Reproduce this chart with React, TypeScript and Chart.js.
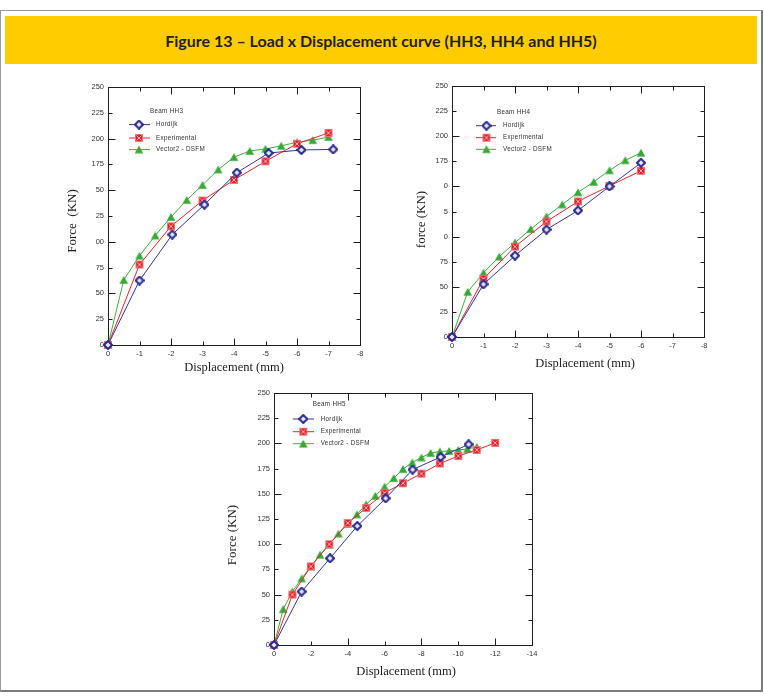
import React, { useEffect, useRef } from "react";
import { Chart, registerables } from "chart.js";

Chart.register(...registerables);

// ---- Beam HH3 ----
const HH3_HORDIJK_X = [0, 1.0, 2.04, 3.06, 4.09, 5.1, 6.14, 7.15];
const HH3_HORDIJK_Y = [0, 62.5, 107, 136, 167, 186, 189, 189.5];
const HH3_EXP_X = [0, 1, 2, 3, 4, 5, 6, 7];
const HH3_EXP_Y = [0, 78, 115, 140, 160, 178, 195, 205.5];
const HH3_VEC_X = [0, 0.5, 1, 1.5, 2, 2.5, 3, 3.5, 4, 4.5, 5, 5.5, 6, 6.5, 7];
const HH3_VEC_Y = [0, 63, 86.5, 106, 124, 140.5, 155, 170, 182, 188, 190, 193, 196.5, 198.5, 201.5];

// ---- Beam HH4 ----
const HH4_HORDIJK_X = [0, 1, 2, 3, 4, 5, 6];
const HH4_HORDIJK_Y = [0, 52.5, 81, 107, 126, 150, 173.5];
const HH4_EXP_X = [0, 1, 2, 3, 4, 5, 6];
const HH4_EXP_Y = [0, 58, 90, 115, 135, 150.5, 165.5];
const HH4_VEC_X = [0, 0.5, 1, 1.5, 2, 2.5, 3, 3.5, 4, 4.5, 5, 5.5, 6];
const HH4_VEC_Y = [0, 45, 64, 80, 94, 107.5, 120, 132, 144, 154.5, 166, 176, 183.5];

// ---- Beam HH5 ----
const HH5_HORDIJK_X = [0, 1.5, 3.04, 4.52, 6.06, 7.52, 9.04, 10.56];
const HH5_HORDIJK_Y = [0, 53, 86, 118, 145.5, 174, 186.5, 199];
const HH5_EXP_X = [0, 1, 2, 3, 4, 5, 6, 7, 8, 9, 10, 11, 12];
const HH5_EXP_Y = [0, 50, 78, 100, 121, 136, 151, 160.5, 170, 180, 187.5, 193.5, 200.5];
const HH5_VEC_X = [0, 0.5, 1, 1.5, 2, 2.5, 3, 3.5, 4, 4.5, 5, 5.5, 6, 6.5, 7, 7.5, 8, 8.5, 9, 9.5, 10, 10.5, 11];
const HH5_VEC_Y = [0, 35.5, 53, 66, 78, 89.5, 99.5, 110.5, 120, 129.5, 139.5, 148, 157, 165.5, 174.5, 181, 186, 190.5, 192, 192.5, 193.5, 194.5, 196.5];

// ---- tick labels ----
const HH3_Y_TICKS = ["0", "25", "50", "75", "00", "25", "50", "175", "200", "225", "250"];
const HH4_Y_TICKS = ["0", "25", "50", "75", "0", "5", "0", "175", "200", "225", "250"];
const HH5_Y_TICKS = ["0", "25", "50", "75", "100", "125", "150", "175", "200", "225", "250"];
const X_TICKS_8 = ["0", "-1", "-2", "-3", "-4", "-5", "-6", "-7", "-8"];
const X_TICKS_14 = ["0", "-2", "-4", "-6", "-8", "-10", "-12", "-14"];

const SERIES_NAMES = ["Hordijk", "Experimental", "Vector2 - DSFM"];

const COLORS = {
  hordijk: "#35359a",
  experimental: "#e5262e",
  vector: "#3daf3d",
};

type Kind = "diamond" | "square" | "triangle";

function makeMarker(kind: Kind): HTMLCanvasElement {
  const c = document.createElement("canvas");
  c.width = 10;
  c.height = 10;
  const g = c.getContext("2d")!;
  if (kind === "diamond") {
    g.beginPath();
    g.moveTo(5, 1);
    g.lineTo(9, 5);
    g.lineTo(5, 9);
    g.lineTo(1, 5);
    g.closePath();
    g.fillStyle = "#e8e8fa";
    g.fill();
    g.lineWidth = 2;
    g.strokeStyle = "#2a2a8a";
    g.stroke();
  } else if (kind === "square") {
    g.fillStyle = "#ee6f74";
    g.fillRect(1, 1, 8, 8);
    g.fillStyle = "#e01e28";
    g.fillRect(2, 2, 6, 6);
    g.strokeStyle = "#f6b2b4";
    g.lineWidth = 1;
    g.beginPath();
    g.moveTo(2.5, 2.5);
    g.lineTo(7.5, 7.5);
    g.moveTo(7.5, 2.5);
    g.lineTo(2.5, 7.5);
    g.stroke();
  } else {
    g.beginPath();
    g.moveTo(5, 1);
    g.lineTo(9.3, 8.8);
    g.lineTo(0.7, 8.8);
    g.closePath();
    g.fillStyle = "#36a836";
    g.fill();
  }
  return c;
}

function pts(xs: number[], ys: number[]) {
  return xs.map((x, i) => ({ x, y: ys[i] }));
}

type LegendLayout = {
  title: string;
  titleX: number;
  titleY: number;
  lineX0: number;
  lineX1: number;
  markX: number;
  textX: number;
  rows: number[];
};

type PanelProps = {
  box: { left: number; top: number; width: number; height: number };
  yAxisWidth: number;
  xAxisHeight: number;
  padTop: number;
  padRight: number;
  xMax: number;
  xStep: number;
  xTicks: string[];
  yTicks: string[];
  series: { xs: number[]; ys: number[] }[];
  yTitle: string;
  yTitleDx: number;
  yTitleDy: number;
  xTitle: string;
  xTitleDx: number;
  xTitleDy: number;
  legend: LegendLayout;
};

function Panel(p: PanelProps) {
  const ref = useRef<HTMLCanvasElement | null>(null);

  useEffect(() => {
    if (!ref.current) return;
    const markers = [makeMarker("diamond"), makeMarker("square"), makeMarker("triangle")];
    const colors = [COLORS.hordijk, COLORS.experimental, COLORS.vector];

    // plot frame with inward tick marks on all four sides
    const frameTicks = {
      id: "frameTicks",
      beforeDatasetsDraw(chart: any) {
        const { ctx, chartArea: a, scales } = chart;
        ctx.save();
        ctx.strokeStyle = "#1e1e1e";
        ctx.lineWidth = 1;
        const L = Math.round(a.left) + 0.5;
        const R = Math.round(a.right) + 0.5;
        const T = Math.round(a.top) + 0.5;
        const B = Math.round(a.bottom) + 0.5;
        ctx.strokeRect(L, T, R - L, B - T);
        ctx.beginPath();
        scales.x.ticks.forEach((t: any, i: number) => {
          const px = Math.round(scales.x.getPixelForValue(t.value)) + 0.5;
          const len = i % 2 === 0 ? 7 : 4;
          ctx.moveTo(px, B);
          ctx.lineTo(px, B - len);
          ctx.moveTo(px, T);
          ctx.lineTo(px, T + len);
        });
        scales.y.ticks.forEach((t: any, i: number) => {
          const py = Math.round(scales.y.getPixelForValue(t.value)) + 0.5;
          const len = i % 2 === 0 ? 7 : 4;
          ctx.moveTo(L, py);
          ctx.lineTo(L + len, py);
          ctx.moveTo(R, py);
          ctx.lineTo(R - len, py);
        });
        ctx.stroke();
        ctx.restore();
      },
    };

    // legend drawn inside the plot area, line + marker + label
    const legendBox = {
      id: "legendBox",
      afterDatasetsDraw(chart: any) {
        const { ctx, chartArea: a } = chart;
        const lg = p.legend;
        ctx.save();
        ctx.font = '6.3px "Liberation Sans", Arial, sans-serif';
        ctx.fillStyle = "#333";
        ctx.textBaseline = "middle";
        ctx.textAlign = "left";
        (ctx as any).letterSpacing = "0.3px";
        ctx.fillText(lg.title, a.left + lg.titleX, a.top + lg.titleY);
        chart.data.datasets.forEach((ds: any, i: number) => {
          const y = a.top + lg.rows[i];
          ctx.strokeStyle = ds.borderColor;
          ctx.lineWidth = 1;
          ctx.beginPath();
          ctx.moveTo(a.left + lg.lineX0, y);
          ctx.lineTo(a.left + lg.lineX1, y);
          ctx.stroke();
          const m = markers[i];
          ctx.drawImage(m, a.left + lg.markX - m.width / 2, y - m.height / 2);
          ctx.fillStyle = "#333";
          ctx.fillText(ds.label, a.left + lg.textX, y);
        });
        ctx.restore();
      },
    };

    const axisTitles = {
      id: "axisTitles",
      afterDraw(chart: any) {
        const { ctx, chartArea: a } = chart;
        ctx.save();
        ctx.fillStyle = "#222";
        ctx.textAlign = "center";
        ctx.textBaseline = "middle";
        ctx.font = '13px "Liberation Serif", "Times New Roman", serif';
        ctx.translate(a.left + p.yTitleDx, (a.top + a.bottom) / 2 + p.yTitleDy);
        ctx.rotate(-Math.PI / 2);
        ctx.fillText(p.yTitle, 0, 0);
        ctx.restore();
        ctx.save();
        ctx.fillStyle = "#222";
        ctx.textAlign = "center";
        ctx.textBaseline = "middle";
        ctx.font = '12.5px "Liberation Serif", "Times New Roman", serif';
        ctx.fillText(p.xTitle, (a.left + a.right) / 2 + p.xTitleDx, a.bottom + p.xTitleDy);
        ctx.restore();
      },
    };

    const chart = new Chart(ref.current, {
      type: "line",
      data: {
        datasets: p.series.map((s, i) => ({
          label: SERIES_NAMES[i],
          data: pts(s.xs, s.ys),
          borderColor: colors[i],
          backgroundColor: colors[i],
          borderWidth: 1,
          tension: 0,
          pointStyle: markers[i] as any,
          pointRadius: 5,
          pointHoverRadius: 5,
          clip: false as any,
        })),
      },
      options: {
        animation: false,
        responsive: false,
        events: [],
        layout: { padding: { top: p.padTop, right: p.padRight, left: 0, bottom: 0 } },
        plugins: {
          legend: { display: false },
          tooltip: { enabled: false },
        },
        scales: {
          x: {
            type: "linear",
            min: 0,
            max: p.xMax,
            grid: { display: false, drawTicks: false },
            border: { display: false },
            ticks: {
              stepSize: p.xStep,
              autoSkip: false,
              maxRotation: 0,
              padding: 4,
              color: "#333",
              font: { family: '"Liberation Sans", Arial, sans-serif', size: 7.5 },
              callback: (_v: any, i: number) => p.xTicks[i],
            },
            afterFit: (s: any) => {
              s.height = p.xAxisHeight;
            },
          },
          y: {
            type: "linear",
            min: 0,
            max: 250,
            grid: { display: false, drawTicks: false },
            border: { display: false },
            ticks: {
              stepSize: 25,
              autoSkip: false,
              padding: 4,
              color: "#333",
              font: { family: '"Liberation Sans", Arial, sans-serif', size: 7.5 },
              callback: (_v: any, i: number) => p.yTicks[i],
            },
            afterFit: (s: any) => {
              s.width = p.yAxisWidth;
            },
          },
        },
      },
      plugins: [frameTicks, legendBox, axisTitles],
    });
    return () => chart.destroy();
  }, []);

  return (
    <canvas
      ref={ref}
      width={p.box.width}
      height={p.box.height}
      style={{
        position: "absolute",
        left: p.box.left,
        top: p.box.top,
        width: p.box.width,
        height: p.box.height,
      }}
    />
  );
}

export default function App() {
  return (
    <div
      style={{
        position: "absolute",
        left: 0,
        top: 0,
        width: 764,
        height: 698,
        background: "#fff",
        overflow: "hidden",
      }}
    >
      <div
        style={{
          position: "absolute",
          left: 0,
          top: 10,
          width: 760,
          height: 679,
          borderTop: "1px solid #9a9a9a",
          borderLeft: "1px solid #9a9a9a",
          borderRight: "2px solid #7c7c7c",
          borderBottom: "2px solid #7c7c7c",
        }}
      />
      <div
        style={{
          position: "absolute",
          left: 5,
          top: 16,
          width: 752,
          height: 48,
          background: "#ffcc00",
          display: "flex",
          alignItems: "center",
          justifyContent: "center",
          fontFamily: "Lato, 'Open Sans', sans-serif",
          fontWeight: 700,
          fontSize: 16,
          color: "#1f1f1f",
        }}
      >
        Figure 13 – Load x Displacement curve (HH3, HH4 and HH5)
      </div>

      <Panel
        box={{ left: 48, top: 77, width: 324, height: 308 }}
        yAxisWidth={60}
        xAxisHeight={40}
        padTop={10}
        padRight={12}
        xMax={8}
        xStep={1}
        xTicks={X_TICKS_8}
        yTicks={HH3_Y_TICKS}
        series={[
          { xs: HH3_HORDIJK_X, ys: HH3_HORDIJK_Y },
          { xs: HH3_EXP_X, ys: HH3_EXP_Y },
          { xs: HH3_VEC_X, ys: HH3_VEC_Y },
        ]}
        yTitle="Force  (KN)"
        yTitleDx={-35}
        yTitleDy={5}
        xTitle="Displacement (mm)"
        xTitleDx={0}
        xTitleDy={23}
        legend={{
          title: "Beam HH3",
          titleX: 42,
          titleY: 24.5,
          lineX0: 21,
          lineX1: 42,
          markX: 31,
          textX: 48,
          rows: [37.6, 51, 62.6],
        }}
      />

      <Panel
        box={{ left: 392, top: 76, width: 324, height: 301 }}
        yAxisWidth={60}
        xAxisHeight={40}
        padTop={10}
        padRight={12}
        xMax={8}
        xStep={1}
        xTicks={X_TICKS_8}
        yTicks={HH4_Y_TICKS}
        series={[
          { xs: HH4_HORDIJK_X, ys: HH4_HORDIJK_Y },
          { xs: HH4_EXP_X, ys: HH4_EXP_Y },
          { xs: HH4_VEC_X, ys: HH4_VEC_Y },
        ]}
        yTitle="force (KN)"
        yTitleDx={-30}
        yTitleDy={8}
        xTitle="Displacement (mm)"
        xTitleDx={7}
        xTitleDy={27}
        legend={{
          title: "Beam HH4",
          titleX: 45,
          titleY: 26,
          lineX0: 24,
          lineX1: 44,
          markX: 34.5,
          textX: 51,
          rows: [39.7, 51.7, 63.3],
        }}
      />

      <Panel
        box={{ left: 214, top: 383, width: 330, height: 302 }}
        yAxisWidth={60}
        xAxisHeight={40}
        padTop={10}
        padRight={12}
        xMax={14}
        xStep={2}
        xTicks={X_TICKS_14}
        yTicks={HH5_Y_TICKS}
        series={[
          { xs: HH5_HORDIJK_X, ys: HH5_HORDIJK_Y },
          { xs: HH5_EXP_X, ys: HH5_EXP_Y },
          { xs: HH5_VEC_X, ys: HH5_VEC_Y },
        ]}
        yTitle="Force (KN)"
        yTitleDx={-41}
        yTitleDy={16}
        xTitle="Displacement (mm)"
        xTitleDx={3}
        xTitleDy={27}
        legend={{
          title: "Beam HH5",
          titleX: 38.7,
          titleY: 11.7,
          lineX0: 18.7,
          lineX1: 40,
          markX: 29.3,
          textX: 46.7,
          rows: [26, 38.7, 50.7],
        }}
      />
    </div>
  );
}
